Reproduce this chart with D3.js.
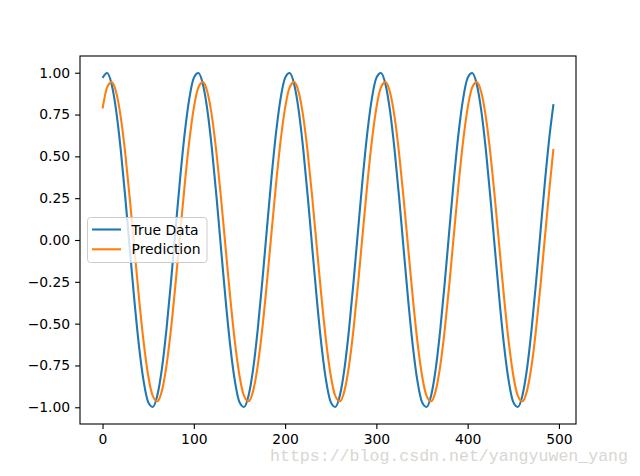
<!DOCTYPE html>
<html>
<head>
<meta charset="utf-8">
<script src="https://cdn.jsdelivr.net/npm/d3@7"></script>
<style>
  html, body { margin: 0; padding: 0; background: #fff; }
  svg { display: block; }
</style>
</head>
<body>
<svg id="chart" width="640" height="476"></svg>
<script>
// sample positions (time step index)
const xs = [0,5,10,15,20,25,30,35,40,45,50,55,60,65,70,75,80,85,90,95,
  100,105,110,115,120,125,130,135,140,145,150,155,160,165,170,175,180,185,190,195,
  200,205,210,215,220,225,230,235,240,245,250,255,260,265,270,275,280,285,290,295,
  300,305,310,315,320,325,330,335,340,345,350,355,360,365,370,375,380,385,390,395,
  400,405,410,415,420,425,430,435,440,445,450,455,460,465,470,475,480,485,490,494];

const trueData = [0.969,0.998,0.930,0.771,0.536,0.249,-0.063,-0.368,-0.637,-0.844,
  -0.969,-0.998,-0.930,-0.771,-0.536,-0.249,0.063,0.368,0.637,0.844,
  0.969,0.998,0.930,0.771,0.536,0.249,-0.063,-0.368,-0.637,-0.844,
  -0.969,-0.998,-0.930,-0.771,-0.536,-0.249,0.063,0.368,0.637,0.844,
  0.969,0.998,0.930,0.771,0.536,0.249,-0.063,-0.368,-0.637,-0.844,
  -0.969,-0.998,-0.930,-0.771,-0.536,-0.249,0.063,0.368,0.637,0.844,
  0.969,0.998,0.930,0.771,0.536,0.249,-0.063,-0.368,-0.637,-0.844,
  -0.969,-0.998,-0.930,-0.771,-0.536,-0.249,0.063,0.368,0.637,0.844,
  0.969,0.998,0.930,0.771,0.536,0.249,-0.063,-0.368,-0.637,-0.844,
  -0.969,-0.998,-0.930,-0.771,-0.536,-0.249,0.063,0.368,0.637,0.812];

const prediction = [0.786,0.912,0.944,0.882,0.733,0.512,0.239,-0.058,-0.350,-0.609,
  -0.810,-0.932,-0.964,-0.902,-0.753,-0.532,-0.259,0.038,0.330,0.589,
  0.790,0.912,0.944,0.882,0.733,0.512,0.239,-0.058,-0.350,-0.609,
  -0.810,-0.932,-0.964,-0.902,-0.753,-0.532,-0.259,0.038,0.330,0.589,
  0.790,0.912,0.944,0.882,0.733,0.512,0.239,-0.058,-0.350,-0.609,
  -0.810,-0.932,-0.964,-0.902,-0.753,-0.532,-0.259,0.038,0.330,0.589,
  0.790,0.912,0.944,0.882,0.733,0.512,0.239,-0.058,-0.350,-0.609,
  -0.810,-0.932,-0.964,-0.902,-0.753,-0.532,-0.259,0.038,0.330,0.589,
  0.790,0.912,0.944,0.882,0.733,0.512,0.239,-0.058,-0.350,-0.609,
  -0.810,-0.932,-0.964,-0.902,-0.753,-0.532,-0.259,0.038,0.330,0.545];

const xTicks = [0,100,200,300,400,500];
const yTicks = [-1.00,-0.75,-0.50,-0.25,0.00,0.25,0.50,0.75,1.00];
const seriesNames = ["True Data","Prediction"];
const seriesColors = ["#1f77b4","#ff7f0e"];
const watermark = "https://blog.csdn.net/yangyuwen_yang";

const svg = d3.select("#chart");
const L = 80, R = 576, T = 56, B = 424;
const FONT = "'DejaVu Sans', sans-serif";

const x = d3.scaleLinear().domain([-24.7, 518.7]).range([L, R]);
const y = d3.scaleLinear().domain([-1.1, 1.1]).range([B, T]);

const series = [trueData, prediction];
const line = d3.line()
  .x((d, i) => x(xs[i]))
  .y(d => y(d))
  .curve(d3.curveMonotoneX);

const plot = svg.append("g");
plot.append("clipPath").attr("id", "clip")
  .append("rect").attr("x", L).attr("y", T).attr("width", R - L).attr("height", B - T);

series.forEach((s, k) => {
  plot.append("path")
    .datum(s)
    .attr("d", line)
    .attr("fill", "none")
    .attr("stroke", seriesColors[k])
    .attr("stroke-width", 2.1)
    .attr("stroke-linejoin", "round")
    .attr("stroke-linecap", "butt")
    .attr("clip-path", "url(#clip)");
});

// axes
const fmtY = v => (v < 0 ? "\u2212" : "") + Math.abs(v).toFixed(2);
const xAxis = d3.axisBottom(x).tickValues(xTicks).tickSize(4.9).tickPadding(4.9).tickFormat(d3.format("d"));
const yAxis = d3.axisLeft(y).tickValues(yTicks).tickSize(4.9).tickPadding(4.9).tickFormat(fmtY);

const gx = svg.append("g").attr("transform", `translate(0,${B})`).call(xAxis);
const gy = svg.append("g").attr("transform", `translate(${L},0)`).call(yAxis);
[gx, gy].forEach(g => {
  g.select(".domain").remove();
  g.selectAll(".tick line").attr("stroke", "#000").attr("stroke-width", 1.1);
  g.selectAll(".tick text").attr("fill", "#000").style("font-family", FONT).style("font-size", "13.9px");
});
gx.selectAll(".tick text").attr("dy", "0.75em");

// frame
svg.append("rect")
  .attr("x", L).attr("y", T).attr("width", R - L).attr("height", B - T)
  .attr("fill", "none").attr("stroke", "#000").attr("stroke-width", 1.1);

// legend
const lg = svg.append("g");
lg.append("rect")
  .attr("x", 87.5).attr("y", 217.5).attr("width", 119.5).attr("height", 45)
  .attr("rx", 3).attr("ry", 3)
  .attr("fill", "rgba(255,255,255,0.8)")
  .attr("stroke", "#cccccc").attr("stroke-width", 1);
seriesNames.forEach((name, k) => {
  const cy = 229.5 + k * 19.8;
  lg.append("line")
    .attr("x1", 92).attr("x2", 121).attr("y1", cy).attr("y2", cy)
    .attr("stroke", seriesColors[k]).attr("stroke-width", 2.1);
  lg.append("text")
    .attr("x", 131.5).attr("y", cy).attr("dy", "0.36em")
    .style("font-family", FONT).style("font-size", "13.9px")
    .attr("fill", "#000")
    .text(name);
});

// watermark
svg.append("text")
  .attr("x", 270).attr("y", 461)
  .attr("textLength", 358).attr("lengthAdjust", "spacingAndGlyphs")
  .style("font-family", "'Liberation Mono', 'DejaVu Serif', serif")
  .style("font-size", "17px")
  .attr("fill", "#d9d6d2")
  .text(watermark);
</script>
</body>
</html>
